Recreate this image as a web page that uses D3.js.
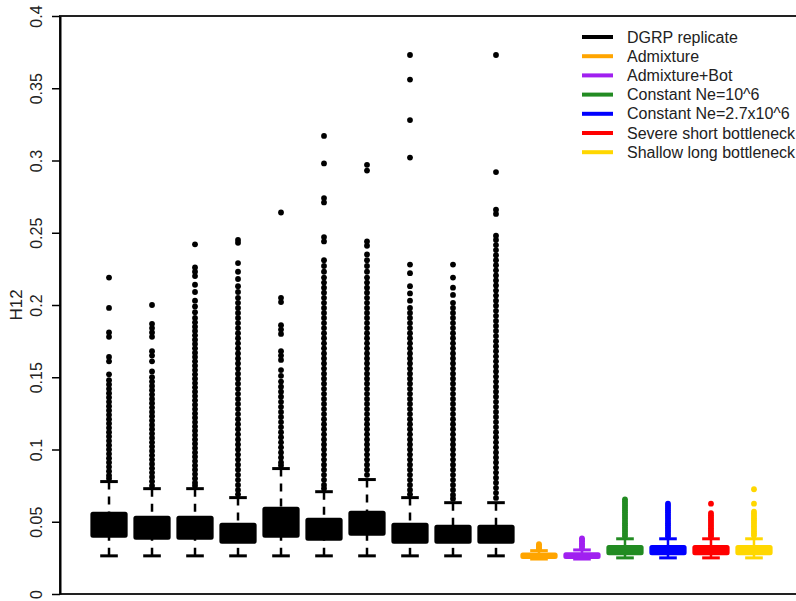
<!DOCTYPE html>
<html>
<head>
<meta charset="utf-8">
<script src="https://cdn.jsdelivr.net/npm/d3@7"></script>
<style>
  body { margin: 0; background: #fff; }
  svg { font-family: "Liberation Sans", Arial, Helvetica, sans-serif; }
</style>
</head>
<body>
<div id="chart"></div>
<script>
// ---- data ----
const groupNames = [
  "DGRP 1", "DGRP 2", "DGRP 3", "DGRP 4", "DGRP 5",
  "DGRP 6", "DGRP 7", "DGRP 8", "DGRP 9", "DGRP 10",
  "Admixture", "Admixture+Bot", "Constant Ne=10^6", "Constant Ne=2.7x10^6",
  "Severe short bottleneck", "Shallow long bottleneck",
];
const groupColors = [
  "#000000", "#000000", "#000000", "#000000", "#000000",
  "#000000", "#000000", "#000000", "#000000", "#000000",
  "#FFA500", "#A020F0", "#228B22", "#0000FF", "#FF0000", "#FFD700",
];

const lowWhisker = [0.0264, 0.0264, 0.0264, 0.0264, 0.0264, 0.0264, 0.0264, 0.0264, 0.0264, 0.0264,
  0.0242, 0.0242, 0.0250, 0.0250, 0.0250, 0.0250];
const q1 = [0.0396, 0.0382, 0.0382, 0.0354, 0.0396, 0.0375, 0.0410, 0.0354, 0.0354, 0.0354,
  0.0250, 0.0250, 0.0275, 0.0275, 0.0275, 0.0275];
const median = [0.0470, 0.0455, 0.0455, 0.0415, 0.0480, 0.0445, 0.0485, 0.0415, 0.0410, 0.0410,
  0.0265, 0.0265, 0.0300, 0.0300, 0.0300, 0.0300];
const q3 = [0.0563, 0.0535, 0.0535, 0.0486, 0.0597, 0.0521, 0.0569, 0.0486, 0.0472, 0.0472,
  0.0280, 0.0282, 0.0333, 0.0333, 0.0333, 0.0333];
const highWhisker = [0.0778, 0.0729, 0.0729, 0.0667, 0.0868, 0.0708, 0.0792, 0.0667, 0.0632, 0.0632,
  0.0300, 0.0305, 0.0382, 0.0382, 0.0382, 0.0382];

const outliers = [
  [0.219, 0.198, 0.181, 0.178, 0.164, 0.161, 0.152, 0.148, 0.145, 0.142, 0.139, 0.136, 0.133, 0.130,
    0.127, 0.124, 0.121, 0.118, 0.115, 0.112, 0.109, 0.106, 0.103, 0.100, 0.097, 0.094, 0.091, 0.088,
    0.085, 0.082, 0.080],
  [0.200, 0.187, 0.184, 0.181, 0.178, 0.168, 0.165, 0.161, 0.154, 0.150, 0.147, 0.144, 0.141, 0.138,
    0.135, 0.132, 0.129, 0.126, 0.123, 0.120, 0.117, 0.114, 0.111, 0.108, 0.105, 0.102, 0.099, 0.096,
    0.093, 0.090, 0.087, 0.084, 0.081, 0.078, 0.075],
  [0.242, 0.226, 0.223, 0.220, 0.214, 0.209, 0.203, 0.199, 0.195, 0.191, 0.188, 0.185, 0.182, 0.179,
    0.176, 0.173, 0.170, 0.167, 0.164, 0.161, 0.158, 0.155, 0.152, 0.149, 0.146, 0.143, 0.140, 0.137,
    0.134, 0.131, 0.128, 0.125, 0.122, 0.119, 0.116, 0.113, 0.110, 0.107, 0.104, 0.101, 0.098, 0.095,
    0.092, 0.089, 0.086, 0.083, 0.080, 0.077, 0.075],
  [0.245, 0.243, 0.229, 0.223, 0.218, 0.213, 0.209, 0.205, 0.2015, 0.198, 0.1945, 0.191, 0.1875, 0.184,
    0.1805, 0.177, 0.1735, 0.170, 0.1665, 0.163, 0.1595, 0.156, 0.1525, 0.149, 0.1455, 0.142, 0.1385,
    0.135, 0.1315, 0.128, 0.1245, 0.121, 0.1175, 0.114, 0.1105, 0.107, 0.1035, 0.100, 0.0965, 0.093,
    0.0895, 0.086, 0.0825, 0.079, 0.0755, 0.072, 0.069],
  [0.264, 0.205, 0.202, 0.186, 0.183, 0.180, 0.168, 0.165, 0.162, 0.155, 0.151, 0.147, 0.1435, 0.140,
    0.1365, 0.133, 0.1295, 0.126, 0.1225, 0.119, 0.1155, 0.112, 0.1085, 0.105, 0.1015, 0.098, 0.0945,
    0.091, 0.089],
  [0.317, 0.298, 0.274, 0.271, 0.247, 0.244, 0.231, 0.227, 0.223, 0.219, 0.2155, 0.212, 0.2085, 0.205,
    0.2015, 0.198, 0.1945, 0.191, 0.1875, 0.184, 0.1805, 0.177, 0.1735, 0.170, 0.1665, 0.163, 0.1595,
    0.156, 0.1525, 0.149, 0.1455, 0.142, 0.1385, 0.135, 0.1315, 0.128, 0.1245, 0.121, 0.1175, 0.114,
    0.1105, 0.107, 0.1035, 0.100, 0.0965, 0.093, 0.0895, 0.086, 0.0825, 0.079, 0.0755, 0.073],
  [0.297, 0.293, 0.244, 0.241, 0.235, 0.231, 0.227, 0.223, 0.219, 0.2155, 0.212, 0.2085, 0.205, 0.2015,
    0.198, 0.1945, 0.191, 0.1875, 0.184, 0.1805, 0.177, 0.1735, 0.170, 0.1665, 0.163, 0.1595, 0.156,
    0.1525, 0.149, 0.1455, 0.142, 0.1385, 0.135, 0.1315, 0.128, 0.1245, 0.121, 0.1175, 0.114, 0.1105,
    0.107, 0.1035, 0.100, 0.0965, 0.093, 0.0895, 0.086, 0.0825],
  [0.373, 0.356, 0.328, 0.302, 0.228, 0.222, 0.213, 0.208, 0.203, 0.198, 0.1945, 0.191, 0.1875, 0.184,
    0.1805, 0.177, 0.1735, 0.170, 0.1665, 0.163, 0.1595, 0.156, 0.1525, 0.149, 0.1455, 0.142, 0.1385,
    0.135, 0.1315, 0.128, 0.1245, 0.121, 0.1175, 0.114, 0.1105, 0.107, 0.1035, 0.100, 0.0965, 0.093,
    0.0895, 0.086, 0.0825, 0.079, 0.0755, 0.072, 0.069],
  [0.228, 0.219, 0.212, 0.207, 0.2015, 0.198, 0.1945, 0.191, 0.1875, 0.184, 0.1805, 0.177, 0.1735,
    0.170, 0.1665, 0.163, 0.1595, 0.156, 0.1525, 0.149, 0.1455, 0.142, 0.1385, 0.135, 0.1315, 0.128,
    0.1245, 0.121, 0.1175, 0.114, 0.1105, 0.107, 0.1035, 0.100, 0.0965, 0.093, 0.0895, 0.086, 0.0825,
    0.079, 0.0755, 0.072, 0.0685, 0.066],
  [0.373, 0.292, 0.266, 0.263, 0.248, 0.245, 0.2415, 0.238, 0.2345, 0.231, 0.2275, 0.224, 0.2205,
    0.217, 0.2135, 0.210, 0.2065, 0.203, 0.1995, 0.196, 0.1925, 0.189, 0.1855, 0.182, 0.1785, 0.175,
    0.1715, 0.168, 0.1645, 0.161, 0.1575, 0.154, 0.1505, 0.147, 0.1435, 0.140, 0.1365, 0.133, 0.1295,
    0.126, 0.1225, 0.119, 0.1155, 0.112, 0.1085, 0.105, 0.1015, 0.098, 0.0945, 0.091, 0.0875, 0.084,
    0.0805, 0.077, 0.0735, 0.070, 0.0665],
  [0.0345, 0.0335, 0.0325, 0.0315, 0.031],
  [0.0385, 0.0375, 0.0365, 0.035, 0.034, 0.033, 0.0315],
  [0.0655, 0.064, 0.0625, 0.061, 0.0595, 0.058, 0.0565, 0.055, 0.0535, 0.052, 0.0505, 0.049, 0.0475,
    0.046, 0.0445, 0.043, 0.0415, 0.040],
  [0.0625, 0.061, 0.0595, 0.058, 0.0565, 0.055, 0.0535, 0.052, 0.0505, 0.049, 0.0475, 0.046, 0.0445,
    0.043, 0.0415, 0.040],
  [0.0625, 0.056, 0.0545, 0.053, 0.0515, 0.050, 0.0485, 0.047, 0.0455, 0.044, 0.0425, 0.041, 0.0398],
  [0.0725, 0.0625, 0.057, 0.0555, 0.054, 0.0525, 0.051, 0.0495, 0.048, 0.0465, 0.045, 0.0435, 0.042,
    0.0405],
];

const legendLabels = [
  "DGRP replicate", "Admixture", "Admixture+Bot", "Constant Ne=10^6",
  "Constant Ne=2.7x10^6", "Severe short bottleneck", "Shallow long bottleneck",
];
const legendColors = ["#000000", "#FFA500", "#A020F0", "#228B22", "#0000FF", "#FF0000", "#FFD700"];

const yTicks = [0, 0.05, 0.1, 0.15, 0.2, 0.25, 0.3, 0.35, 0.4];
const yTickLabels = ["0", "0.05", "0.1", "0.15", "0.2", "0.25", "0.3", "0.35", "0.4"];

class BoxPlot {
  constructor(_config) {
    this.config = {
      parentElement: _config.parentElement,
      containerWidth: _config.containerWidth || 796,
      containerHeight: _config.containerHeight || 601,
      // plot region is cropped on the right like the original
      plot: { left: 60, right: 803, top: 16, bottom: 594 },
      boxwex: 0.82,
    };
    this.initVis();
  }

  initVis() {
    let vis = this;
    let p = vis.config.plot;

    vis.svg = d3
      .select(vis.config.parentElement)
      .append("svg")
      .attr("width", vis.config.containerWidth)
      .attr("height", vis.config.containerHeight);

    // R style: boxes at 1..n, with 4% padding on each side
    let n = groupNames.length;
    let pad = n * 0.04;
    vis.x = d3.scaleLinear().domain([0.5 - pad, n + 0.5 + pad]).range([p.left, p.right]);
    vis.y = d3.scaleLinear().domain([0, 0.4]).range([p.bottom, p.top]);

    vis.rows = groupNames.map((name, i) => ({
      name: name,
      pos: i + 1,
      color: groupColors[i],
      lo: lowWhisker[i],
      q1: q1[i],
      med: median[i],
      q3: q3[i],
      hi: highWhisker[i],
      out: outliers[i],
    }));

    this.updateVis();
  }

  updateVis() {
    let vis = this;
    let bw = vis.x(1 + vis.config.boxwex) - vis.x(1);
    let sw = bw / 2;

    let g = vis.svg.selectAll(".group").data(vis.rows).join("g").attr("class", "group");

    // dashed whiskers, drawn from the staple toward the box
    g.append("line")
      .attr("x1", (d) => vis.x(d.pos))
      .attr("x2", (d) => vis.x(d.pos))
      .attr("y1", (d) => vis.y(d.hi))
      .attr("y2", (d) => vis.y(d.q3))
      .attr("stroke", (d) => d.color)
      .attr("stroke-width", 2.5)
      .attr("stroke-dasharray", "8,7");
    g.append("line")
      .attr("x1", (d) => vis.x(d.pos))
      .attr("x2", (d) => vis.x(d.pos))
      .attr("y1", (d) => vis.y(d.lo))
      .attr("y2", (d) => vis.y(d.q1))
      .attr("stroke", (d) => d.color)
      .attr("stroke-width", 2.5)
      .attr("stroke-dasharray", "8,7");

    // staples
    ["lo", "hi"].forEach((k) => {
      g.append("line")
        .attr("x1", (d) => vis.x(d.pos) - sw / 2)
        .attr("x2", (d) => vis.x(d.pos) + sw / 2)
        .attr("y1", (d) => vis.y(d[k]))
        .attr("y2", (d) => vis.y(d[k]))
        .attr("stroke", (d) => d.color)
        .attr("stroke-width", 3);
    });

    // boxes
    g.append("rect")
      .attr("x", (d) => vis.x(d.pos) - bw / 2)
      .attr("y", (d) => vis.y(d.q3))
      .attr("width", bw)
      .attr("height", (d) => vis.y(d.q1) - vis.y(d.q3))
      .attr("fill", (d) => d.color)
      .attr("stroke", (d) => d.color)
      .attr("stroke-width", 2)
      .attr("rx", 1.5);

    g.append("line")
      .attr("x1", (d) => vis.x(d.pos) - bw / 2)
      .attr("x2", (d) => vis.x(d.pos) + bw / 2)
      .attr("y1", (d) => vis.y(d.med))
      .attr("y2", (d) => vis.y(d.med))
      .attr("stroke", (d) => d.color)
      .attr("stroke-width", 3);

    // outliers
    g.selectAll("circle")
      .data((d) => d.out.map((v) => ({ v: v, pos: d.pos, color: d.color })))
      .join("circle")
      .attr("cx", (d) => vis.x(d.pos))
      .attr("cy", (d) => vis.y(d.v))
      .attr("r", 2.9)
      .attr("fill", (d) => d.color);

    this.addAxes();
    this.addLegend();
  }

  addAxes() {
    let vis = this;
    let p = vis.config.plot;

    // frame
    vis.svg
      .append("rect")
      .attr("x", p.left)
      .attr("y", p.top)
      .attr("width", p.right - p.left)
      .attr("height", p.bottom - p.top)
      .attr("fill", "none")
      .attr("stroke", "#222")
      .attr("stroke-width", 2);

    vis.yAxis = d3
      .axisLeft(vis.y)
      .tickValues(yTicks)
      .tickFormat((d, i) => yTickLabels[i])
      .tickSizeOuter(0)
      .tickSizeInner(8);

    let ax = vis.svg
      .append("g")
      .attr("id", "y-axis")
      .attr("transform", `translate(${p.left}, 0)`)
      .call(vis.yAxis);
    ax.select(".domain").attr("stroke", "#000").attr("stroke-width", 2);
    ax.selectAll(".tick line").attr("stroke", "#000").attr("stroke-width", 1.5);
    ax.selectAll(".tick text")
      .attr("x", null)
      .attr("dy", null)
      .attr("text-anchor", "middle")
      .attr("transform", "translate(-18,0) rotate(-90)")
      .attr("fill", "#222")
      .style("font-size", "16px")
      .style("font-family", "Liberation Sans, Arial, sans-serif");

    // y label
    vis.svg
      .append("text")
      .attr("text-anchor", "middle")
      .attr("transform", `translate(22, ${(p.top + p.bottom) / 2}) rotate(-90)`)
      .attr("fill", "#222")
      .style("font-size", "17px")
      .text("H12");
  }

  addLegend() {
    let vis = this;
    let leg = vis.svg.append("g").attr("transform", "translate(582, 37)");
    let item = leg
      .selectAll("g")
      .data(legendLabels)
      .join("g")
      .attr("transform", (d, i) => `translate(0, ${i * 19.2})`);
    item.append("line")
      .attr("x1", 0)
      .attr("x2", 31)
      .attr("stroke", (d, i) => legendColors[i])
      .attr("stroke-width", 4);
    item.append("text")
      .attr("x", 45)
      .attr("dy", "0.35em")
      .attr("fill", "#222")
      .style("font-size", "16px")
      .text((d) => d);
  }
}

new BoxPlot({ parentElement: "#chart" });
</script>
</body>
</html>
